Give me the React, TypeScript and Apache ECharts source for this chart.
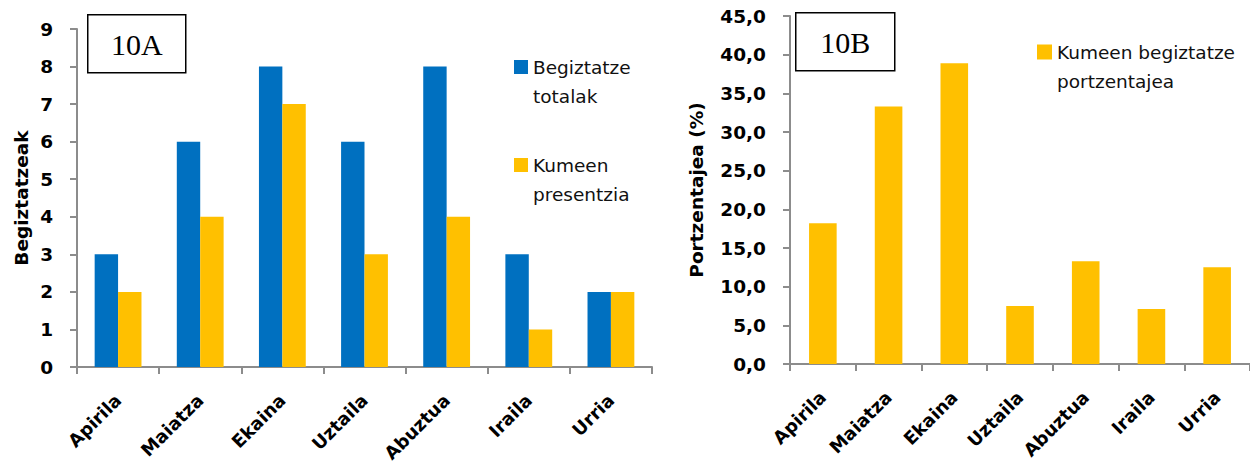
import React, { useEffect, useRef } from "react";
import * as echarts from "echarts";

// Months of the survey
const months = ["Apirila", "Maiatza", "Ekaina", "Uztaila", "Abuztua", "Iraila", "Urria"];

// 10A: counts per month
const totalSightings = [3, 6, 8, 6, 8, 3, 2];
const cubSightings = [2, 4, 7, 3, 4, 1, 2];

// 10B: share of sightings with cubs (%)
const cubPercent = [18.2, 33.3, 38.9, 7.5, 13.3, 7.1, 12.5];

// Axis ranges [min, max, interval]
const countAxis = [0, 9, 1];
const percentAxis = [0, 45, 5];

const seriesNames = {
  total: "Begiztatze totalak",
  cubs: "Kumeen presentzia",
  percent: "Kumeen begiztatze portzentajea",
};

// Legend labels wrap onto two lines; the leading empty line keeps the
// first line level with the swatch.
const legendLines: Record<string, string> = {
  "Begiztatze totalak": "\nBegiztatze\ntotalak",
  "Kumeen presentzia": "\nKumeen\npresentzia",
  "Kumeen begiztatze portzentajea": "\nKumeen begiztatze\nportzentajea",
};

const FONT = "'DejaVu Sans', Verdana, sans-serif";
const BLUE = "#0070C0";
const YELLOW = "#FFC000";
const AXIS_GREY = "#8c8c8c";

const axisLineStyle = { show: true, lineStyle: { color: AXIS_GREY, width: 2 } };
const tickStyle = { show: true, length: 7, lineStyle: { color: AXIS_GREY, width: 2 } };

export default function App() {
  const ref = useRef<HTMLDivElement>(null);

  useEffect(() => {
    document.body.style.margin = "0";
    if (!ref.current) return;
    const chart = echarts.init(ref.current, undefined, { renderer: "svg" });

    const xAxisCommon = {
      type: "category" as const,
      data: months,
      axisLine: axisLineStyle,
      axisTick: { ...tickStyle, alignWithLabel: false },
      axisLabel: {
        interval: 0,
        rotate: 45,
        margin: 30,
        color: "#000",
        fontFamily: FONT,
        fontWeight: "bold" as const,
        fontSize: 18,
      },
    };

    const yLabel = {
      color: "#000",
      fontFamily: FONT,
      fontWeight: "bold" as const,
      fontSize: 18.5,
    };

    const legendText = {
      fontFamily: FONT,
      fontSize: 18.5,
      color: "#111",
      lineHeight: 29,
    };

    chart.setOption({
      animation: false,
      backgroundColor: "#fff",
      grid: [
        { left: 77, top: 29, width: 575, height: 338 },
        { left: 790, top: 16, width: 467, height: 348 },
      ],
      xAxis: [
        { ...xAxisCommon, gridIndex: 0 },
        { ...xAxisCommon, gridIndex: 1 },
      ],
      yAxis: [
        {
          type: "value",
          gridIndex: 0,
          min: countAxis[0],
          max: countAxis[1],
          interval: countAxis[2],
          axisLine: axisLineStyle,
          axisTick: tickStyle,
          splitLine: { show: false },
          axisLabel: { ...yLabel, margin: 24 },
          name: "Begiztatzeak",
          nameLocation: "middle",
          nameGap: 46,
          nameTextStyle: { ...yLabel },
        },
        {
          type: "value",
          gridIndex: 1,
          min: percentAxis[0],
          max: percentAxis[1],
          interval: percentAxis[2],
          axisLine: axisLineStyle,
          axisTick: tickStyle,
          splitLine: { show: false },
          axisLabel: {
            ...yLabel,
            margin: 24,
            formatter: (v: number) => v.toFixed(1).replace(".", ","),
          },
          name: "Portzentajea (%)",
          nameLocation: "middle",
          nameGap: 84,
          nameTextStyle: { ...yLabel },
        },
      ],
      legend: [
        {
          data: [seriesNames.total, seriesNames.cubs],
          orient: "vertical",
          left: 514,
          top: 23.5,
          padding: 0,
          itemGap: 11,
          itemWidth: 14,
          itemHeight: 14,
          icon: "rect",
          formatter: (n: string) => legendLines[n] ?? n,
          textStyle: legendText,
        },
        {
          data: [seriesNames.percent],
          orient: "vertical",
          left: 1037,
          top: 8.5,
          padding: 0,
          itemWidth: 15,
          itemHeight: 15,
          icon: "rect",
          formatter: (n: string) => legendLines[n] ?? n,
          textStyle: legendText,
        },
      ],
      graphic: [
        {
          type: "group",
          left: 87,
          top: 14,
          children: [
            { type: "rect", shape: { x: 0, y: 0, width: 98, height: 58 }, style: { fill: "#fff", stroke: "#000", lineWidth: 1.5 } },
            { type: "text", x: 49, y: 30, style: { text: "10A", font: "30px 'Liberation Serif', 'Times New Roman', serif", fill: "#000", align: "center", verticalAlign: "middle" } },
          ],
        },
        {
          type: "group",
          left: 795,
          top: 12,
          children: [
            { type: "rect", shape: { x: 0, y: 0, width: 99, height: 58 }, style: { fill: "#fff", stroke: "#000", lineWidth: 1.5 } },
            { type: "text", x: 49.5, y: 30, style: { text: "10B", font: "30px 'Liberation Serif', 'Times New Roman', serif", fill: "#000", align: "center", verticalAlign: "middle" } },
          ],
        },
      ],
      series: [
        {
          name: seriesNames.total,
          type: "bar",
          xAxisIndex: 0,
          yAxisIndex: 0,
          data: totalSightings,
          itemStyle: { color: BLUE },
          barGap: "0%",
          barCategoryGap: "43%",
        },
        {
          name: seriesNames.cubs,
          type: "bar",
          xAxisIndex: 0,
          yAxisIndex: 0,
          data: cubSightings,
          itemStyle: { color: YELLOW },
          barGap: "0%",
          barCategoryGap: "43%",
        },
        {
          name: seriesNames.percent,
          type: "bar",
          xAxisIndex: 1,
          yAxisIndex: 1,
          data: cubPercent,
          itemStyle: { color: YELLOW },
          barCategoryGap: "58%",
        },
      ],
    });

    return () => chart.dispose();
  }, []);

  return <div ref={ref} style={{ width: 1250, height: 465 }} />;
}
